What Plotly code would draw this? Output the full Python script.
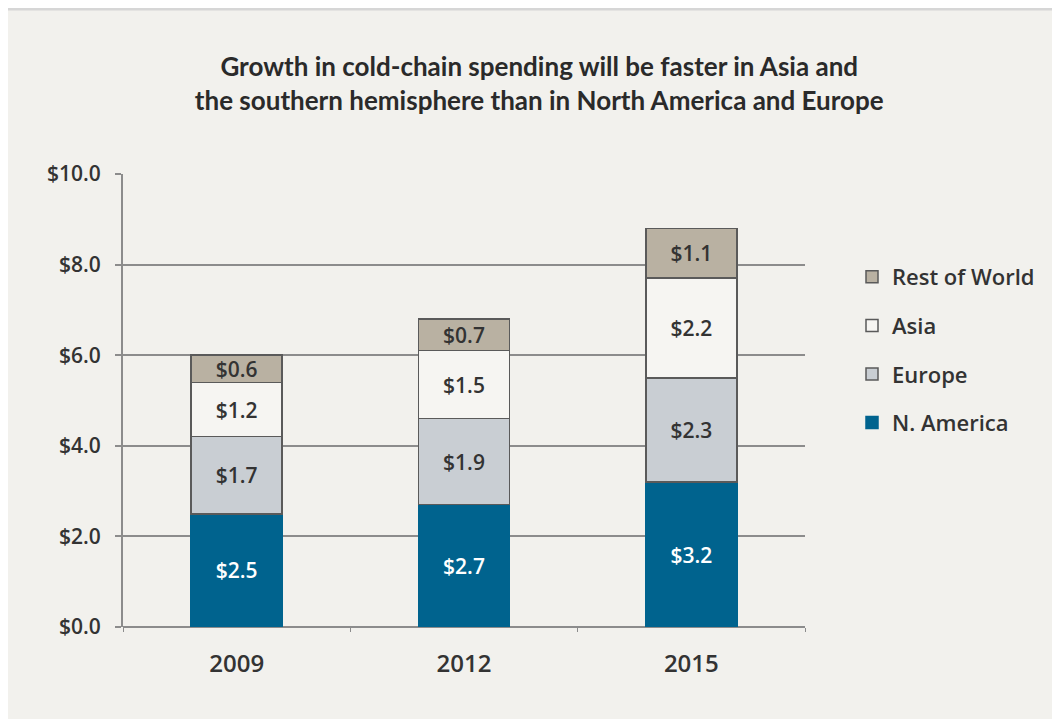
import plotly.graph_objects as go

# data
years = ["2009", "2012", "2015"]
n_america = [2.5, 2.7, 3.2]
europe = [1.7, 1.9, 2.3]
asia = [1.2, 1.5, 2.2]
rest_of_world = [0.6, 0.7, 1.1]
y_ticks = [0, 2, 4, 6, 8, 10]

BG = "#f2f1ed"
GRID = "#8c8c8c"
OUTLINE = "#5a5a5a"
FONT = "Open Sans"
TITLE_FONT = "Lato"

series = [
    ("N. America", n_america, "#00638e", "#00638e", "#ffffff", 4),
    ("Europe", europe, "#c9ced3", OUTLINE, "#333333", 3),
    ("Asia", asia, "#f6f5f2", OUTLINE, "#333333", 2),
    ("Rest of World", rest_of_world, "#b9b1a2", OUTLINE, "#333333", 1),
]

fig = go.Figure()
for name, vals, fill, line, txt, rank in series:
    fig.add_trace(go.Bar(
        name=name,
        x=years,
        y=vals,
        legendgroup=name,
        legendrank=rank,
        marker=dict(color=fill, line=dict(color=line, width=1.5)),
        text=[f"${v:.1f}" for v in vals],
        textposition="inside",
        insidetextanchor="middle",
        constraintext="none",
        textangle=0,
        textfont=dict(family=FONT, size=21, color=txt, weight=600),
        width=0.4,
    ))

# page has an 8px body margin; plot area in figure pixels: x 115..797, y 166..619
W, H = 1052, 711
L, R, T, B = 115, 255, 166, 92
PW, PH = W - L - R, H - T - B


def px_x(p):
    return (p - L) / PW


def px_y(p):
    return (H - B - p) / PH


fig.update_layout(
    width=W,
    height=H,
    barmode="stack",
    paper_bgcolor=BG,
    plot_bgcolor=BG,
    font=dict(family=FONT, size=19, color="#333333"),
    title=dict(
        text="<b>Growth in cold-chain spending will be faster in Asia and<br>"
             "the southern hemisphere than in North America and Europe</b>",
        font=dict(family=TITLE_FONT, size=26, color="#2a2a2a"),
        x=0.505,
        xanchor="center",
        y=1 - 68 / H,
        yanchor="top",
    ),
    xaxis=dict(
        type="category",
        showgrid=False,
        showline=False,
        ticks="outside",
        tickson="boundaries",
        ticklen=4,
        tickcolor=GRID,
        ticklabelstandoff=20,
        tickfont=dict(family=FONT, size=24, color="#333333", weight=600),
        fixedrange=True,
    ),
    yaxis=dict(
        range=[0, 10],
        tickvals=y_ticks,
        ticktext=[f"${v:.1f}" for v in y_ticks],
        showgrid=True,
        gridcolor=GRID,
        gridwidth=2,
        zeroline=True,
        zerolinecolor=GRID,
        zerolinewidth=2,
        showline=True,
        linecolor=GRID,
        linewidth=2,
        ticks="outside",
        ticklen=6,
        tickwidth=2,
        tickcolor=GRID,
        ticklabelstandoff=10,
        tickfont=dict(family=FONT, size=21, color="#333333", weight=600),
    ),
    legend=dict(
        traceorder="grouped",
        tracegroupgap=17,
        x=px_x(844),
        xanchor="left",
        y=px_y(248),
        yanchor="top",
        bgcolor="rgba(0,0,0,0)",
        font=dict(family=FONT, size=22, color="#333333", weight=600),
    ),
    margin=dict(l=L, r=R, t=T, b=B),
)

# thin grey rule along the top edge
fig.add_shape(type="line", xref="paper", yref="paper",
              x0=px_x(0), x1=px_x(W), y0=px_y(1), y1=px_y(1),
              line=dict(color="#d6d6d6", width=3), layer="above")

fig.write_html("out.html")
